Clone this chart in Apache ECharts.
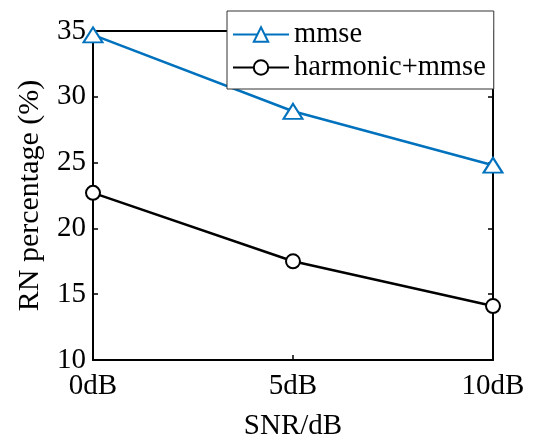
<!DOCTYPE html>
<html>
<head>
<meta charset="utf-8">
<script src="https://cdn.jsdelivr.net/npm/echarts@6/dist/echarts.min.js"></script>
<style>
  html, body { margin: 0; padding: 0; background: #fff; }
  #main { width: 535px; height: 439px; }
</style>
</head>
<body>
<div id="main"></div>
<script>
var categories = ['0dB', '5dB', '10dB'];
var mmse = [34.7, 28.9, 24.8];
var harmonicMmse = [22.7, 17.5, 14.1];
var yTicks = [10, 15, 20, 25, 30, 35];

var font = 'Liberation Serif';
var myChart = echarts.init(document.getElementById('main'));

var option = {
    animation: false,
    backgroundColor: '#fff',
    grid: { left: 93, right: 42, top: 31, bottom: 79, outerBoundsMode: 'none' },
    legend: {
        left: 227, top: 11,
        orient: 'vertical',
        padding: [9, 8, 7, 5],
        itemGap: 4,
        itemWidth: 56, itemHeight: 18,
        backgroundColor: '#fff',
        borderColor: '#333', borderWidth: 1,
        textStyle: { fontFamily: font, fontSize: 28.5, color: '#000' },
        data: ['mmse', 'harmonic+mmse']
    },
    xAxis: [{
        type: 'category',
        data: categories,
        boundaryGap: false,
        name: 'SNR/dB',
        nameLocation: 'middle',
        nameGap: 52,
        nameTextStyle: { fontFamily: font, fontSize: 29, color: '#000' },
        axisLine: { lineStyle: { color: '#000', width: 2 } },
        axisTick: { inside: true, length: 5, lineStyle: { color: '#000', width: 1.5 } },
        axisLabel: { fontFamily: font, fontSize: 29, color: '#000', margin: 12 },
        splitLine: { show: false }
    }, {
        type: 'category',
        data: categories,
        boundaryGap: false,
        position: 'top',
        axisLine: { lineStyle: { color: '#000', width: 2 } },
        axisTick: { inside: true, length: 5, lineStyle: { color: '#000', width: 1.5 } },
        axisLabel: { show: false }
    }],
    yAxis: [{
        type: 'value',
        min: yTicks[0], max: yTicks[yTicks.length - 1], interval: 5,
        name: 'RN percentage (%)',
        nameLocation: 'middle',
        nameGap: 48,
        nameTextStyle: { fontFamily: font, fontSize: 30, color: '#000' },
        axisLine: { show: true, lineStyle: { color: '#000', width: 2 } },
        axisTick: { show: true, inside: true, length: 5, lineStyle: { color: '#000', width: 1.5 } },
        axisLabel: { fontFamily: font, fontSize: 29, color: '#000', margin: 7 },
        splitLine: { show: false }
    }, {
        type: 'value',
        min: yTicks[0], max: yTicks[yTicks.length - 1], interval: 5,
        position: 'right',
        axisLine: { show: true, lineStyle: { color: '#000', width: 2 } },
        axisTick: { show: true, inside: true, length: 5, lineStyle: { color: '#000', width: 1.5 } },
        axisLabel: { show: false },
        splitLine: { show: false }
    }],
    series: [{
        name: 'mmse',
        type: 'line',
        data: mmse,
        color: '#0072BD',
        symbol: 'emptyTriangle',
        symbolSize: [19, 15],
        lineStyle: { width: 2.5 },
        itemStyle: { borderWidth: 2.5 }
    }, {
        name: 'harmonic+mmse',
        type: 'line',
        data: harmonicMmse,
        color: '#000',
        symbol: 'emptyCircle',
        symbolSize: 14,
        lineStyle: { width: 2.5 },
        itemStyle: { borderWidth: 2.5 }
    }]
};
myChart.setOption(option);
</script>
</body>
</html>
